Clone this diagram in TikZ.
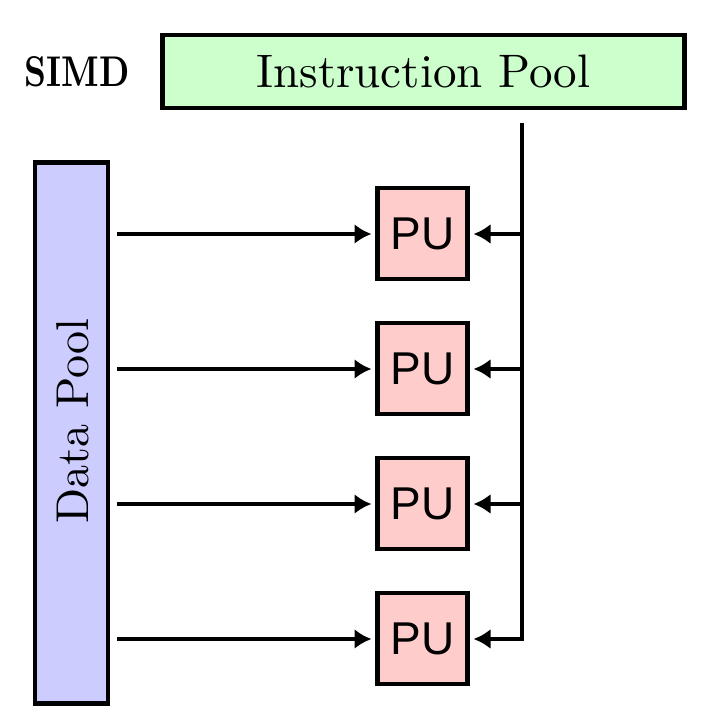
\documentclass[tikz,border=0pt]{standalone}
\usepackage{fontspec}
\newfontfamily\pufont{Liberation Sans}
\newfontfamily\lmten{lmroman10-regular.otf}
\newfontfamily\lmtenbf{lmroman10-bold.otf}
\usetikzlibrary{arrows.meta}
\definecolor{ipgreen}{HTML}{CCFFCC}
\definecolor{dpblue}{HTML}{CCCCFF}
\definecolor{pupink}{HTML}{FFCCCC}
\tikzset{
  box/.style={draw=black, line width=4.5pt, inner sep=0pt, outer sep=0pt},
  pubox/.style={box, fill=pupink, minimum width=90pt, minimum height=91pt, font=\pufont\fontsize{46}{46}\selectfont},
  conn/.style={line width=3.5pt, -{Latex[length=17pt,width=20pt]}},
  wire/.style={line width=3.5pt}
}
\begin{document}
\begin{tikzpicture}[x=1pt,y=-1pt]
\useasboundingbox (0,0) rectangle (720,720);
\node[box, fill=ipgreen, minimum width=522pt, minimum height=73pt, font=\lmten\fontsize{47}{47}\selectfont] (ip) at (423.5,71.5) {Instruction Pool};
\node[xscale=0.8, font=\lmtenbf\fontsize{43}{43}\selectfont] (simd) at (77,72) {SIMD};
\node[box, fill=dpblue, minimum width=73pt, minimum height=541pt] (dp) at (71.5,433) {};
\node[rotate=90, font=\lmten\fontsize{46}{46}\selectfont] (dpl) at (73,421) {Data Pool};
\node[pubox] (pu1) at (422.5,233.5) {PU};
\node[pubox] (pu2) at (422.5,368.5) {PU};
\node[pubox] (pu3) at (422.5,503.5) {PU};
\node[pubox] (pu4) at (422.5,638.5) {PU};
\coordinate (vtop) at (522,125);
\foreach \i/\y in {1/234,2/369,3/504,4/639}{
  \coordinate (l\i) at (117,\y);
  \coordinate (r\i) at (522,\y);
  \draw[conn] (l\i) -- ([xshift=-6pt]pu\i.west |- l\i);
  \draw[conn] (r\i) -- ([xshift=6pt]pu\i.east |- r\i);
}
\draw[wire, line cap=rect] (vtop) -- (r4) -- ([xshift=-1.5pt]r4);
\end{tikzpicture}
\end{document}
